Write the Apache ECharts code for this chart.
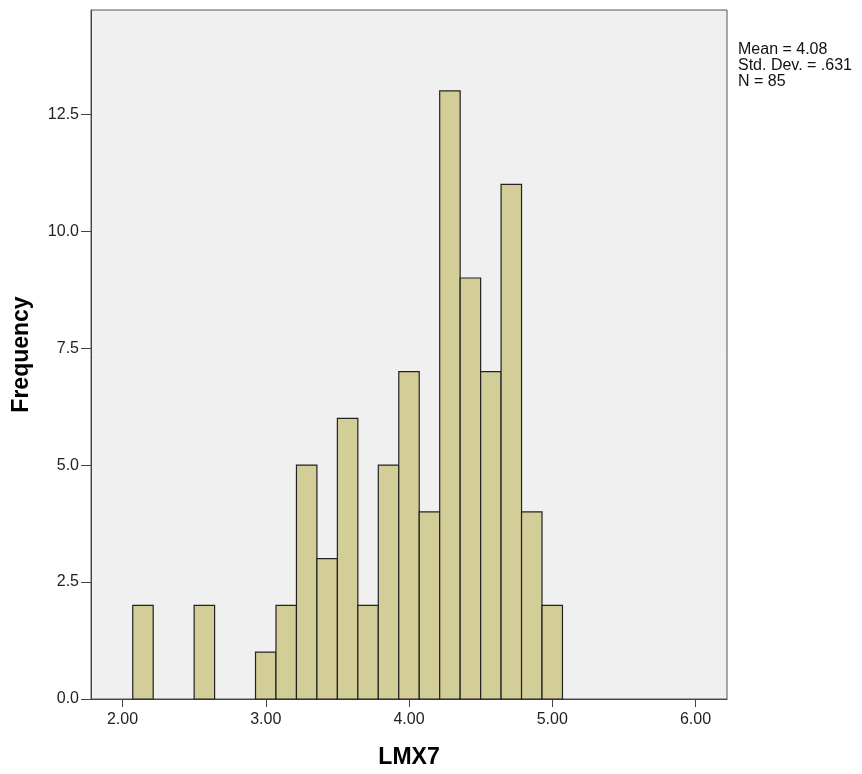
<!DOCTYPE html>
<html>
<head>
<meta charset="utf-8">
<script src="https://cdn.jsdelivr.net/npm/echarts@6/dist/echarts.min.js"></script>
<style>html,body{margin:0;padding:0;background:#fff}#c{width:862px;height:774px}</style>
</head>
<body>
<div id="c"></div>
<script>
// Bin centres (LMX7 values are k/7), bin width 1/7
var binCenters = [15/7, 16/7, 17/7, 18/7, 19/7, 20/7, 21/7, 22/7, 23/7, 24/7, 25/7, 26/7, 27/7, 28/7, 29/7, 30/7, 31/7, 32/7, 33/7, 34/7, 35/7];
var frequencies = [2, 0, 0, 2, 0, 0, 1, 2, 5, 3, 6, 2, 5, 7, 4, 13, 9, 7, 11, 4, 2];
var binWidth = 1/7;
var xTicks = [2, 3, 4, 5, 6];
var yTicks = [0, 2.5, 5, 7.5, 10, 12.5];
var statsLines = ['Mean = 4.08', 'Std. Dev. = .631', 'N = 85'];

var data = [];
for (var i = 0; i < binCenters.length; i++) {
  if (frequencies[i] > 0) data.push([binCenters[i] - binWidth/2, binCenters[i] + binWidth/2, frequencies[i]]);
}

var chart = echarts.init(document.getElementById('c'));
var font = 'Liberation Sans, Arial, sans-serif';
chart.setOption({
  animation: false,
  grid: { left: 91, right: 135, top: 10, bottom: 73, show: true, backgroundColor: '#f0f0f0', borderColor: '#555', borderWidth: 1 },
  xAxis: {
    type: 'value', min: 1.78, max: 6.22,
    name: 'LMX7', nameLocation: 'middle', nameGap: 47,
    nameTextStyle: { fontFamily: font, fontSize: 23, fontWeight: 'bold', color: '#000' },
    axisLine: { show: true, onZero: false, lineStyle: { color: '#444', width: 1 } },
    axisTick: { show: true, inside: false, length: 8, customValues: xTicks, lineStyle: { color: '#444' } },
    axisLabel: { customValues: xTicks, margin: 13, fontFamily: font, fontSize: 16, color: '#222', formatter: function (v) { return v.toFixed(2); } },
    splitLine: { show: false }
  },
  yAxis: {
    type: 'value', min: 0, max: 14.73,
    name: 'Frequency', nameLocation: 'middle', nameGap: 58, nameRotate: 90,
    nameTextStyle: { fontFamily: font, fontSize: 23, fontWeight: 'bold', color: '#000' },
    axisLine: { show: true, lineStyle: { color: '#444', width: 1 } },
    axisTick: { show: true, inside: false, length: 10, customValues: yTicks, lineStyle: { color: '#444' } },
    axisLabel: { customValues: yTicks, margin: 12, fontFamily: font, fontSize: 16, color: '#222', formatter: function (v) { return v.toFixed(1); } },
    splitLine: { show: false }
  },
  graphic: [{
    type: 'text', left: 738, top: 42,
    style: { text: statsLines.join('\n'), fontFamily: font, fontSize: 16, lineHeight: 16, fill: '#111' }
  }],
  series: [{
    type: 'custom',
    data: data,
    encode: { x: [0, 1], y: 2 },
    renderItem: function (params, api) {
      var p0 = api.coord([api.value(0), api.value(2)]);
      var p1 = api.coord([api.value(1), 0]);
      return {
        type: 'rect',
        shape: { x: p0[0], y: p0[1], width: p1[0] - p0[0], height: p1[1] - p0[1] },
        style: { fill: '#d3ce97', stroke: '#222', lineWidth: 1.2 }
      };
    }
  }]
});
</script>
</body>
</html>
